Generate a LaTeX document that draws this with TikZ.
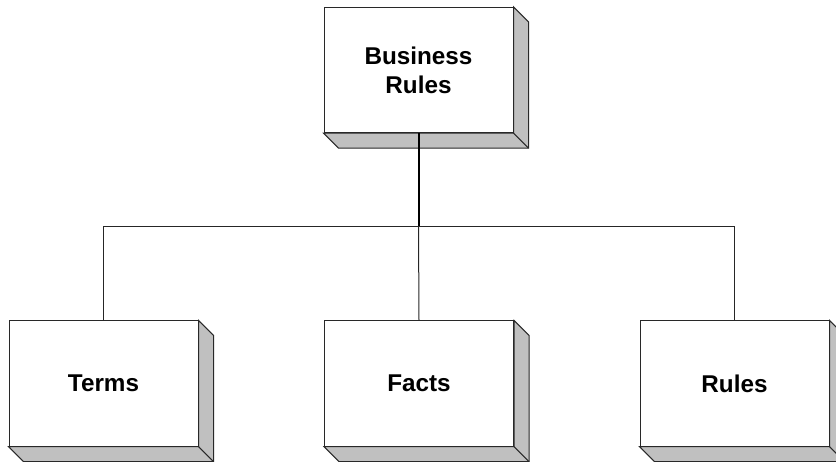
\documentclass[tikz,border=0pt]{standalone}
\usepackage{fontspec}
\setmainfont{Liberation Sans}
\usetikzlibrary{calc}

\definecolor{sidegrey}{RGB}{192,192,192}
\definecolor{edgegrey}{RGB}{40,40,40}

\tikzset{every picture/.style={line width=0.75pt}}
\tikzset{
  rulebox/.style={draw=edgegrey, fill=white, rectangle, align=center,
    minimum width=141.75pt, minimum height=94pt, inner sep=0pt,
    font=\fontsize{18.2}{22}\selectfont\bfseries},
  boxside/.style={draw=edgegrey, fill=sidegrey},
  link/.style={draw=black!85, line width=0.75pt},
  mainlink/.style={draw=black, line width=1.5pt}
}

% grey depth of a box, drawn to the lower right
\newcommand{\boxdepth}[1]{%
  \draw[boxside] (#1.north east) -- ++(15,15) |- ($(#1.south west)+(15,15)$) -- (#1.south west) -- (#1.south east) -- cycle;
  \draw[draw=edgegrey] (#1.south east) -- ++(15,15);
}

\begin{document}
\begin{tikzpicture}[x=0.75pt,y=0.75pt,yscale=-1,xscale=1]
\useasboundingbox (0,0) rectangle (836,461);
\clip (0,0) rectangle (836,461);

%Shape: Box [top]
\node[rulebox] (business) at (418.5,70) {Business\\Rules};
\boxdepth{business}

%Shape: Box [children]
\node[rulebox] (terms) at (103.5,383.5) {Terms};
\boxdepth{terms}
\node[rulebox] (facts) at (419,383.5) {Facts};
\boxdepth{facts}
\node[rulebox] (rules) at (734.5,383.5) {Rules};
\boxdepth{rules}

%Straight Lines
\coordinate (split) at (418.5,226);
\draw[mainlink] (business.south) -- (split);
\draw[link] (terms.north) -- (terms.north |- split) -- (rules.north |- split) -- (rules.north);
\draw[link] (split) -- (facts.north);

\end{tikzpicture}
\end{document}
